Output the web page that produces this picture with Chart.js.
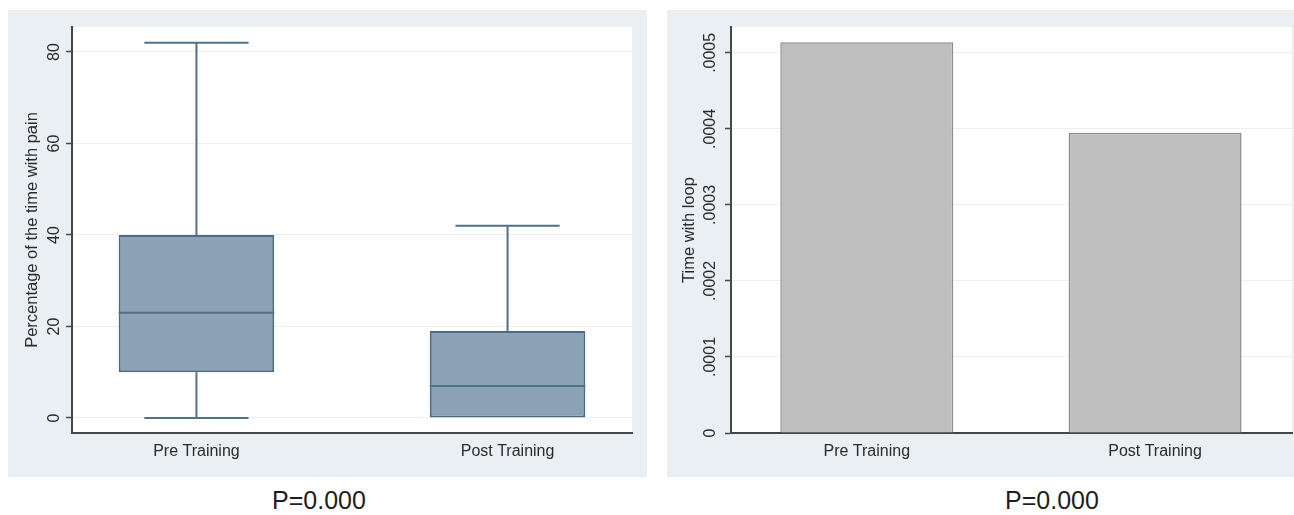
<!DOCTYPE html>
<html>
<head>
<meta charset="utf-8">
<script src="https://cdn.jsdelivr.net/npm/chart.js@4.4.1/dist/chart.umd.min.js"></script>
<style>
  html, body { margin: 0; padding: 0; background: #ffffff; }
  body { position: relative; width: 1294px; height: 515px; overflow: hidden; font-family: "Liberation Sans", Arial, sans-serif; }
  canvas { position: absolute; }
  #painCanvas { left: 8px; top: 10px; }
  #loopCanvas { left: 667px; top: 10px; }
  .pnote { position: absolute; top: 485px; font-size: 25px; line-height: 30px; color: #1e1e1e; transform: translateX(-50%); white-space: nowrap; }
</style>
</head>
<body>
<canvas id="painCanvas" width="639" height="467"></canvas>
<canvas id="loopCanvas" width="627" height="467"></canvas>
<div class="pnote" id="pLeft" style="left:319px"></div>
<div class="pnote" id="pRight" style="left:1052px"></div>
<script>
// Groups on the horizontal axis
const categories = ['Pre Training', 'Post Training'];

// Percentage of the time with pain: box plot summary per group
const painMin    = [0, 0];
const painQ1     = [10, 0];
const painMedian = [23, 7];
const painQ3     = [40, 19];
const painMax    = [82, 42];
const painTicks      = [0, 20, 40, 60, 80];
const painTickLabels = ['0', '20', '40', '60', '80'];

// Time with loop: mean per group
const loopMeans = [0.000514, 0.000395];
const loopTicks      = [0, 0.0001, 0.0002, 0.0003, 0.0004, 0.0005];
const loopTickLabels = ['0', '.0001', '.0002', '.0003', '.0004', '.0005'];

// Test results printed under each panel
const pValues = ['P=0.000', 'P=0.000'];

const FONT = '"Liberation Sans", Arial, sans-serif';
const TEXT = '#2a2a2a';
const AXIS = '#474747';
const GRID = '#edf0f1';

// Light panel behind the axes, white plot region
const panelBackground = {
  id: 'panelBackground',
  beforeDraw(chart, args, opts) {
    const { ctx, chartArea: a, width, height } = chart;
    ctx.save();
    ctx.fillStyle = opts.outer;
    ctx.fillRect(0, 0, width, height);
    ctx.fillStyle = opts.inner;
    ctx.fillRect(a.left, a.top, a.right - a.left, a.bottom - a.top);
    ctx.restore();
  }
};

// Whiskers, caps and median line drawn on top of the box bars
const boxWhiskers = {
  id: 'boxWhiskers',
  afterDatasetsDraw(chart, args, opts) {
    const meta = chart.getDatasetMeta(0);
    const y = chart.scales.y;
    const ctx = chart.ctx;
    ctx.save();
    ctx.strokeStyle = opts.color;
    ctx.lineWidth = opts.lineWidth;
    meta.data.forEach((bar, i) => {
      const cx = bar.x;
      const half = bar.width / 2;
      const cap = half * opts.capRatio;
      const pMin = y.getPixelForValue(painMin[i]);
      const pQ1 = y.getPixelForValue(painQ1[i]);
      const pMed = y.getPixelForValue(painMedian[i]);
      const pQ3 = y.getPixelForValue(painQ3[i]);
      const pMax = y.getPixelForValue(painMax[i]);
      ctx.beginPath();
      // upper whisker + cap
      ctx.moveTo(cx, pQ3); ctx.lineTo(cx, pMax);
      ctx.moveTo(cx - cap, pMax); ctx.lineTo(cx + cap, pMax);
      // lower whisker + cap
      if (pQ1 !== pMin) {
        ctx.moveTo(cx, pQ1); ctx.lineTo(cx, pMin);
        ctx.moveTo(cx - cap, pMin); ctx.lineTo(cx + cap, pMin);
      }
      // median
      ctx.moveTo(cx - half, pMed); ctx.lineTo(cx + half, pMed);
      ctx.stroke();
    });
    ctx.restore();
  }
};

function categoryAxis(min, max) {
  return {
    type: 'linear',
    min: min,
    max: max,
    offset: false,
    z: 1,
    afterBuildTicks: s => { s.ticks = categories.map((c, i) => ({ value: i })); },
    afterFit: s => { s.height = 44; },
    grid: { display: true, drawOnChartArea: false, drawTicks: false, offset: false },
    border: { display: true, color: AXIS, width: 2 },
    ticks: {
      padding: 9,
      color: TEXT,
      font: { family: FONT, size: 16 },
      maxRotation: 0,
      autoSkip: false,
      callback: (v, i) => categories[i]
    }
  };
}

function valueAxis(min, max, tickValues, tickLabels, title, tickPad, titlePad) {
  return {
    type: 'linear',
    position: 'left',
    min: min,
    max: max,
    afterBuildTicks: s => { s.ticks = tickValues.map(v => ({ value: v })); },
    afterFit: s => { s.width = 64; },
    grid: { color: GRID, lineWidth: 1, tickLength: 6, tickColor: AXIS, tickWidth: 1.5 },
    border: { display: true, color: AXIS, width: 2 },
    ticks: {
      minRotation: 90,
      maxRotation: 90,
      crossAlign: 'center',
      padding: tickPad,
      color: TEXT,
      font: { family: FONT, size: 16 },
      autoSkip: false,
      callback: (v, i) => tickLabels[i]
    },
    title: {
      display: true,
      text: title,
      color: TEXT,
      font: { family: FONT, size: 16.5 },
      padding: { top: titlePad, bottom: 0 }
    }
  };
}

const commonPlugins = {
  legend: { display: false },
  tooltip: { enabled: false },
  panelBackground: { outer: '#e9eff2', inner: '#ffffff' }
};

new Chart(document.getElementById('painCanvas'), {
  type: 'bar',
  data: {
    datasets: [{
      data: categories.map((c, i) => ({ x: i, y: [painQ1[i], painQ3[i]] })),
      backgroundColor: '#8da2b7',
      borderColor: '#4d6983',
      borderWidth: 2,
      borderSkipped: false,
      categoryPercentage: 1,
      barPercentage: 0.5
    }]
  },
  options: {
    responsive: false,
    animation: false,
    events: [],
    layout: { padding: { left: 0, top: 17, right: 15, bottom: 0 } },
    scales: {
      x: categoryAxis(-0.4, 1.4),
      y: valueAxis(-3.28, 85.46, painTicks, painTickLabels, 'Percentage of the time with pain', 3, 15)
    },
    plugins: Object.assign({}, commonPlugins, {
      boxWhiskers: { color: '#51708b', lineWidth: 2, capRatio: 0.67 }
    })
  },
  plugins: [panelBackground, boxWhiskers]
});

new Chart(document.getElementById('loopCanvas'), {
  type: 'bar',
  data: {
    datasets: [{
      data: categories.map((c, i) => ({ x: i, y: loopMeans[i] })),
      backgroundColor: '#bfbfbf',
      borderColor: '#8c8c8c',
      borderWidth: 1.5,
      categoryPercentage: 1,
      barPercentage: 0.6
    }]
  },
  options: {
    responsive: false,
    animation: false,
    events: [],
    layout: { padding: { left: 0, top: 17, right: 2, bottom: 0 } },
    scales: {
      x: categoryAxis(-0.471, 1.475),
      y: valueAxis(0, 0.000534, loopTicks, loopTickLabels, 'Time with loop', -6, 13)
    },
    plugins: commonPlugins
  },
  plugins: [panelBackground]
});

document.getElementById('pLeft').textContent = pValues[0];
document.getElementById('pRight').textContent = pValues[1];
</script>
</body>
</html>
